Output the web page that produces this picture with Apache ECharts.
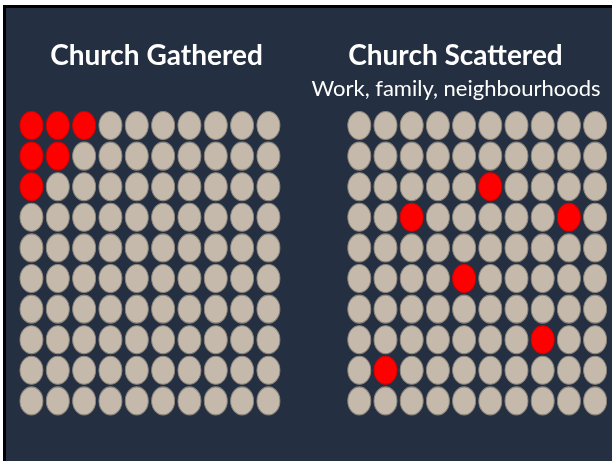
<!DOCTYPE html>
<html>
<head>
<meta charset="utf-8">
<script src="https://cdn.jsdelivr.net/npm/echarts@6/dist/echarts.min.js"></script>
<style>
html,body{margin:0;padding:0;background:#ffffff;}
#chart{width:612px;height:461px;}
</style>
</head>
<body>
<div id="chart"></div>
<script>
// Column and row categories of each 10 x 10 grid
var columns = ['1','2','3','4','5','6','7','8','9','10'];
var rows = ['1','2','3','4','5','6','7','8','9','10'];

// Panel titles
var titleGathered = 'Church Gathered';
var titleScattered = 'Church Scattered';
var subtitleScattered = 'Work, family, neighbourhoods';

// Each string is one row; 1 = highlighted (red), 0 = ordinary (grey)
var gatheredGrid = [
  '1110000000',
  '1100000000',
  '1000000000',
  '0000000000',
  '0000000000',
  '0000000000',
  '0000000000',
  '0000000000',
  '0000000000',
  '0000000000'
];
var scatteredGrid = [
  '0000000000',
  '0000000000',
  '0000010000',
  '0010000010',
  '0000000000',
  '0000100000',
  '0000000000',
  '0000000100',
  '0100000000',
  '0000000000'
];

function cells(grid, flag) {
  var out = [];
  grid.forEach(function (rowStr, r) {
    rowStr.split('').forEach(function (ch, c) {
      if (ch === flag) out.push([columns[c], rows[r]]);
    });
  });
  return out;
}

var BG = '#243041';
var GREY = '#c4b9aa';
var RED = '#ff0000';
var SYM = [23, 28];

var chart = echarts.init(document.getElementById('chart'), null, {renderer: 'canvas'});

function xAxis(i) {
  return {gridIndex: i, type: 'category', data: columns, show: false, boundaryGap: true};
}
function yAxis(i) {
  return {gridIndex: i, type: 'category', data: rows, show: false, inverse: true, boundaryGap: true};
}
function series(i, data, color) {
  return {
    type: 'scatter', xAxisIndex: i, yAxisIndex: i, data: data,
    symbol: 'circle', symbolSize: SYM, silent: true,
    itemStyle: {color: color, borderColor: color === RED ? '#d40000' : '#8c857c', borderWidth: 1, opacity: 1}
  };
}

chart.setOption({
  backgroundColor: '#ffffff',
  animation: false,
  graphic: [
    {type: 'rect', shape: {x: 3, y: 5, width: 609, height: 456}, style: {fill: '#000000'}, z: -10},
    {type: 'rect', shape: {x: 6, y: 8, width: 606, height: 453}, style: {fill: BG}, z: -9}
  ],
  title: [
    {text: titleGathered, left: 151.5, top: 37, textAlign: 'center',
      textStyle: {color: '#ffffff', fontFamily: 'Lato', fontWeight: 'bold', fontSize: 28}},
    {text: titleScattered, left: 450.5, top: 37, textAlign: 'center',
      textStyle: {color: '#ffffff', fontFamily: 'Lato', fontWeight: 'bold', fontSize: 28}},
    {text: subtitleScattered, left: 451, top: 73, textAlign: 'center',
      textStyle: {color: '#ffffff', fontFamily: 'Lato', fontWeight: 'normal', fontSize: 22}}
  ],
  grid: [
    {left: 18.3, top: 110.2, width: 263.3, height: 306},
    {left: 346.2, top: 110.2, width: 262, height: 306}
  ],
  xAxis: [xAxis(0), xAxis(1)],
  yAxis: [yAxis(0), yAxis(1)],
  series: [
    series(0, cells(gatheredGrid, '0'), GREY),
    series(0, cells(gatheredGrid, '1'), RED),
    series(1, cells(scatteredGrid, '0'), GREY),
    series(1, cells(scatteredGrid, '1'), RED)
  ]
});
</script>
</body>
</html>
